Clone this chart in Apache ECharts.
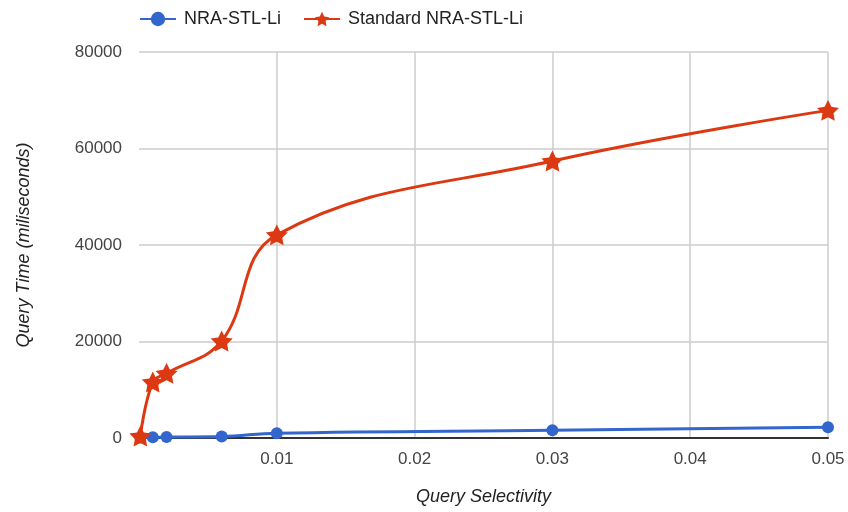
<!DOCTYPE html>
<html>
<head>
<meta charset="utf-8">
<script src="https://cdn.jsdelivr.net/npm/echarts@6/dist/echarts.min.js"></script>
<style>
  html, body { margin: 0; padding: 0; background: #fff; }
  #chart { width: 848px; height: 512px; }
</style>
</head>
<body>
<div id="chart"></div>
<script>
// Query selectivity on the x axis, query time (ms) on the y axis
const selectivity = [0.0001, 0.001, 0.002, 0.006, 0.01, 0.03, 0.05];
const nraStlLi = [100, 150, 200, 300, 1000, 1600, 2250];
const standardNraStlLi = [400, 11600, 13400, 20100, 42100, 57400, 67900];
const seriesNames = ['NRA-STL-Li', 'Standard NRA-STL-Li'];
const xTicks = { min: 0, max: 0.05, interval: 0.01 };
const yTicks = { min: 0, max: 80000, interval: 20000 };

const FONT = '"Liberation Sans", Arial, sans-serif';
const STAR = 'path://M0,-10 L2.94,-4.05 L9.51,-3.09 L4.76,1.55 L5.88,8.09 L0,5 L-5.88,8.09 L-4.76,1.55 L-9.51,-3.09 L-2.94,-4.05 Z';

const pairs = ys => selectivity.map((x, i) => [x, ys[i]]);

const chart = echarts.init(document.getElementById('chart'), null, { renderer: 'canvas' });
chart.setOption({
  animation: false,
  backgroundColor: '#ffffff',
  textStyle: { fontFamily: FONT },
  legend: {
    left: 134,
    top: 5,
    itemWidth: 36,
    itemHeight: 18,
    itemGap: 22,
    selectedMode: false,
    textStyle: { fontFamily: FONT, fontSize: 18, color: '#222', padding: [0, 0, 0, 3] },
    data: seriesNames
  },
  grid: { left: 139, right: 20, top: 52, bottom: 74, containLabel: false },
  xAxis: {
    type: 'value',
    min: xTicks.min,
    max: xTicks.max,
    interval: xTicks.interval,
    name: 'Query Selectivity',
    nameLocation: 'middle',
    nameGap: 50,
    nameTextStyle: { fontFamily: FONT, fontSize: 18, fontStyle: 'italic', color: '#222' },
    axisLine: { show: true, onZero: true, lineStyle: { color: '#333', width: 2 } },
    axisTick: { show: false },
    axisLabel: {
      fontFamily: FONT, fontSize: 17, color: '#444', margin: 13,
      formatter: v => (v === 0 ? '' : String(+v.toFixed(2)))
    },
    splitLine: { show: true, showMinLine: false, lineStyle: { color: '#cccccc', width: 1.5 } }
  },
  yAxis: {
    type: 'value',
    min: yTicks.min,
    max: yTicks.max,
    interval: yTicks.interval,
    name: 'Query Time (miliseconds)',
    nameLocation: 'middle',
    nameGap: 106,
    nameTextStyle: { fontFamily: FONT, fontSize: 18, fontStyle: 'italic', color: '#222' },
    axisLine: { show: false },
    axisTick: { show: false },
    axisLabel: { fontFamily: FONT, fontSize: 17, color: '#444', margin: 17, formatter: v => String(v) },
    splitLine: { show: true, lineStyle: { color: '#cccccc', width: 1.5 } }
  },
  series: [
    {
      name: seriesNames[0],
      type: 'line',
      data: pairs(nraStlLi),
      smooth: 0.4,
      symbol: 'circle',
      symbolSize: 12,
      color: '#3366cc',
      lineStyle: { width: 3, color: '#3366cc' },
      itemStyle: { color: '#3366cc' },
      z: 2
    },
    {
      name: seriesNames[1],
      type: 'line',
      data: pairs(standardNraStlLi),
      smooth: 0.4,
      symbol: STAR,
      symbolKeepAspect: true,
      symbolSize: 22,
      color: '#dc3912',
      lineStyle: { width: 3, color: '#dc3912' },
      itemStyle: { color: '#dc3912' },
      z: 3
    }
  ]
});
</script>
</body>
</html>
